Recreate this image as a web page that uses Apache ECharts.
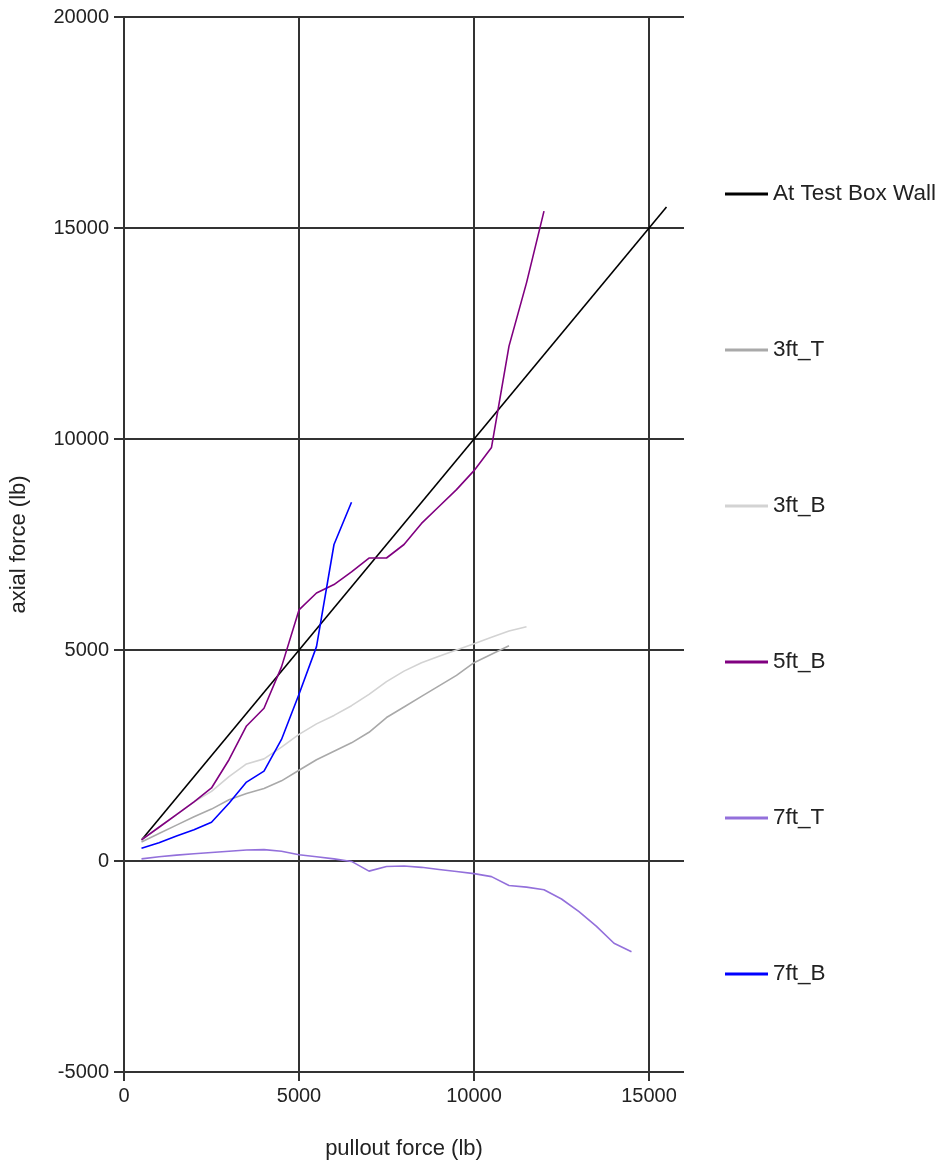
<!DOCTYPE html>
<html>
<head>
<meta charset="utf-8">
<script src="https://cdn.jsdelivr.net/npm/echarts@6/dist/echarts.min.js"></script>
<style>html,body{margin:0;padding:0;background:#fff}#c{width:944px;height:1165px}</style>
</head>
<body>
<div id="c"></div>
<script>
const seriesNames = ['At Test Box Wall','3ft_T','3ft_B','5ft_B','7ft_T','7ft_B'];
const wallX = [500, 15500];
const wallY = [500, 15500];
const ft3T_X = [500,1000,1500,2000,2500,3000,3500,4000,4500,5000,5500,6000,6500,7000,7500,8000,8500,9000,9500,10000,10500,11000];
const ft3T_Y = [450,650,850,1050,1230,1450,1600,1720,1900,2150,2400,2600,2800,3050,3400,3650,3900,4150,4400,4700,4900,5100];
const ft3B_X = [500,1000,1500,2000,2500,3000,3500,4000,4500,5000,5500,6000,6500,7000,7500,8000,8500,9000,9500,10000,10500,11000,11500];
const ft3B_Y = [500,800,1100,1400,1650,2000,2300,2420,2700,3000,3250,3450,3680,3950,4250,4500,4700,4850,5000,5150,5300,5450,5550];
const ft5B_X = [500,1000,1500,2000,2500,3000,3500,4000,4500,5000,5500,6000,6500,7000,7500,8000,8500,9000,9500,10000,10500,11000,11500,12000];
const ft5B_Y = [500,800,1100,1400,1730,2400,3200,3620,4600,5950,6350,6550,6850,7180,7180,7500,8000,8400,8800,9250,9800,12200,13700,15400];
const ft7T_X = [500,1000,1500,2000,2500,3000,3500,4000,4500,5000,5500,6000,6500,7000,7500,8000,8500,9000,9500,10000,10500,11000,11500,12000,12500,13000,13500,14000,14500];
const ft7T_Y = [50,100,140,170,200,230,260,270,230,150,100,50,-10,-240,-130,-120,-150,-200,-250,-300,-370,-580,-620,-680,-900,-1200,-1550,-1950,-2150];
const ft7B_X = [500,1000,1500,2000,2500,3000,3500,4000,4500,5000,5500,6000,6500];
const ft7B_Y = [300,430,590,740,920,1370,1870,2130,2880,3950,5080,7500,8500];
const xTicks = [0,5000,10000,15000];
const yTicks = [-5000,0,5000,10000,15000,20000];

const colors = ['#000000','#a9a9a9','#d3d3d3','#800080','#9370db','#0000ff'];
const xs = [wallX, ft3T_X, ft3B_X, ft5B_X, ft7T_X, ft7B_X];
const ys = [wallY, ft3T_Y, ft3B_Y, ft5B_Y, ft7T_Y, ft7B_Y];

const chart = echarts.init(document.getElementById('c'));
const font = 'Liberation Sans, Arial, sans-serif';
chart.setOption({
  animation: false,
  backgroundColor: '#fff',
  grid: {left: 124, top: 17, width: 560, height: 1057, containLabel: false},
  legend: {
    orient: 'vertical', left: 720, top: 177,
    icon: 'rect', itemWidth: 43, itemHeight: 3, itemGap: 132,
    textStyle: {fontFamily: font, fontSize: 22.5, color: '#222', lineHeight: 24},
    data: seriesNames
  },
  xAxis: {
    type: 'value', min: 0, max: 16000, interval: 5000,
    name: 'pullout force (lb)', nameLocation: 'middle', nameGap: 66,
    nameTextStyle: {fontFamily: font, fontSize: 22, color: '#222'},
    axisLine: {show: false, onZero: false},
    axisTick: {show: true, length: 9, customValues: xTicks, lineStyle: {color: '#333', width: 2}},
    axisLabel: {fontFamily: font, fontSize: 20, color: '#222', margin: 14, customValues: xTicks,
      formatter: v => String(v)},
    splitLine: {show: true, lineStyle: {color: '#333', width: 2}}
  },
  yAxis: {
    type: 'value', min: -5000, max: 20000, interval: 5000,
    name: 'axial force (lb)', nameLocation: 'middle', nameGap: 94, nameRotate: 90,
    nameTextStyle: {fontFamily: font, fontSize: 22, color: '#222'},
    axisLine: {show: true, onZero: false, lineStyle: {color: '#333', width: 2}},
    axisTick: {show: true, length: 10, customValues: yTicks, lineStyle: {color: '#333', width: 2}},
    axisLabel: {fontFamily: font, fontSize: 20, color: '#222', margin: 15, customValues: yTicks,
      formatter: v => String(v)},
    splitLine: {show: true, lineStyle: {color: '#333', width: 2}}
  },
  series: seriesNames.map((n, i) => ({
    name: n, type: 'line', showSymbol: false, symbol: 'none',
    color: colors[i],
    lineStyle: {color: colors[i], width: 1.6},
    data: xs[i].map((x, j) => [x, ys[i][j]]),
    z: i === 0 ? 3 : 4
  }))
});
</script>
</body>
</html>
